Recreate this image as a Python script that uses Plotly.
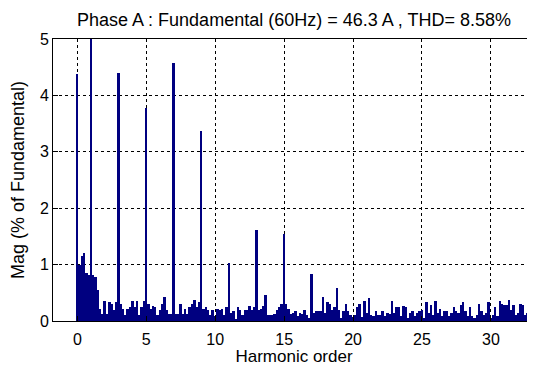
import plotly.graph_objects as go

# Harmonic spectrum, 6 bins per harmonic order (10 Hz resolution), % of fundamental
bins_per_harmonic = 6
mag_rows = [
    [4.38, 1.00, 1.15, 1.20, 0.85, 0.82],  # h0
    [100.0, 0.82, 0.78, 0.55, 0.22, 0.12],  # h1 (fundamental)
    [0.35, 0.12, 0.33, 0.30, 0.20, 0.33],  # h2
    [4.40, 0.30, 0.22, 0.10, 0.21, 0.24],  # h3
    [0.36, 0.25, 0.36, 0.10, 0.25, 0.36],  # h4
    [3.78, 0.30, 0.22, 0.27, 0.24, 0.10],  # h5
    [0.20, 0.31, 0.42, 0.20, 0.12, 0.12],  # h6
    [4.57, 0.12, 0.12, 0.30, 0.12, 0.22],  # h7
    [0.12, 0.25, 0.30, 0.37, 0.25, 0.33],  # h8
    [3.37, 0.22, 0.25, 0.20, 0.10, 0.20],  # h9
    [0.08, 0.22, 0.20, 0.22, 0.10, 0.24],  # h10
    [1.03, 0.14, 0.18, 0.04, 0.24, 0.20],  # h11
    [0.10, 0.20, 0.20, 0.27, 0.20, 0.24],  # h12
    [1.61, 0.20, 0.22, 0.27, 0.46, 0.10],  # h13
    [0.10, 0.10, 0.12, 0.20, 0.24, 0.30],  # h14
    [1.54, 0.30, 0.22, 0.12, 0.14, 0.17],  # h15
    [0.08, 0.15, 0.13, 0.20, 0.10, 0.05],  # h16
    [0.83, 0.14, 0.17, 0.17, 0.18, 0.43],  # h17
    [0.14, 0.34, 0.31, 0.20, 0.25, 0.58],  # h18
    [0.20, 0.06, 0.17, 0.31, 0.17, 0.10],  # h19
    [0.07, 0.10, 0.25, 0.31, 0.07, 0.35],  # h20
    [0.15, 0.41, 0.10, 0.08, 0.17, 0.10],  # h21
    [0.10, 0.18, 0.08, 0.14, 0.13, 0.36],  # h22
    [0.15, 0.25, 0.24, 0.08, 0.27, 0.25],  # h23
    [0.05, 0.14, 0.18, 0.08, 0.15, 0.17],  # h24
    [0.20, 0.05, 0.34, 0.15, 0.28, 0.10],  # h25
    [0.35, 0.15, 0.21, 0.08, 0.17, 0.18],  # h26
    [0.08, 0.14, 0.24, 0.17, 0.14, 0.28],  # h27
    [0.34, 0.17, 0.08, 0.24, 0.09, 0.05],  # h28
    [0.11, 0.30, 0.17, 0.11, 0.15, 0.34],  # h29
    [0.05, 0.11, 0.24, 0.08, 0.36, 0.31],  # h30
    [0.28, 0.28, 0.37, 0.20, 0.28, 0.11],  # h31
    [0.14, 0.30, 0.28, 0.11, 0.15, 0.49],  # h32
    [0.15, 0.10],                          # h33
]

x_ticks = [0, 5, 10, 15, 20, 25, 30]
y_ticks = [0, 1, 2, 3, 4, 5]
title_text = "Phase A : Fundamental (60Hz) = 46.3 A , THD= 8.58%"

orders = []
mags = []
for h, row in enumerate(mag_rows):
    for k, v in enumerate(row):
        orders.append(h + k / bins_per_harmonic)
        mags.append(v)

FONT = "Liberation Sans"
fig = go.Figure(go.Bar(
    x=orders, y=mags,
    width=0.85 / bins_per_harmonic,
    marker=dict(color="#000080", line=dict(width=0)),
))

# page body has an 8px default margin, so the figure is sized/offset to compensate
fig.update_layout(
    width=527, height=358,
    margin=dict(l=45, r=0, t=31, b=45, autoexpand=False),
    paper_bgcolor="white", plot_bgcolor="white",
    font=dict(family=FONT, size=16, color="black"),
    title=dict(text=title_text, x=0.5, xanchor="center", xref="paper",
               y=0.966, yanchor="middle",
               font=dict(family=FONT, size=18, color="black")),
    showlegend=False,
    bargap=0,
)
fig.update_xaxes(
    range=[-1.77, 33.2], tickvals=x_ticks, ticks="inside", ticklen=5, tickcolor="black",
    showline=True, mirror=True, linecolor="black", linewidth=1,
    showgrid=True, gridcolor="black", griddash="3px,3px", gridwidth=1,
    zeroline=False, automargin=False, ticklabelstandoff=4,
    title=dict(text="Harmonic order", standoff=0, font=dict(size=17)),
    tickfont=dict(size=16),
)
fig.update_yaxes(
    range=[0, 5], tickvals=y_ticks, ticks="inside", ticklen=5, tickcolor="black",
    showline=True, mirror=True, linecolor="black", linewidth=1,
    showgrid=True, gridcolor="black", griddash="3px,3px", gridwidth=1,
    zeroline=False, automargin=False,
    title=dict(text="Mag (% of Fundamental)", standoff=14, font=dict(size=18)),
    tickfont=dict(size=16),
)

fig.write_html("out.html")
